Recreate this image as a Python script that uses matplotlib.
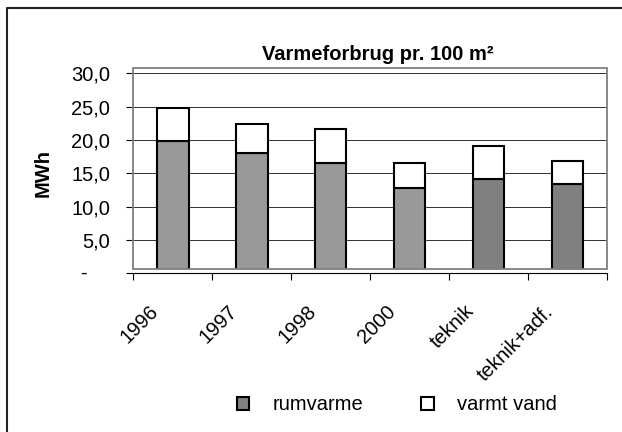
import matplotlib.pyplot as plt
import matplotlib.transforms as mtransforms
from matplotlib.patches import Patch, Rectangle
from matplotlib.ticker import FuncFormatter, FixedLocator

plt.rcParams["font.family"] = ["Liberation Sans", "DejaVu Sans"]

categories = ["1996", "1997", "1998", "2000", "teknik", "teknik+adf."]
rumvarme = [19.85, 18.1, 16.5, 12.75, 14.15, 13.4]
varmt_vand = [5.0, 4.3, 5.15, 3.85, 5.0, 3.45]
rum_colors = ["#999999", "#999999", "#999999", "#999999", "#808080", "#808080"]
y_ticks = [0, 5, 10, 15, 20, 25, 30]

W, H = 622, 432
DPI = 100
FS = 14.5

fig = plt.figure(figsize=(W / DPI, H / DPI), dpi=DPI)

# plot area in pixels: x 133..607, value 0 at y=273, box top at y=68
left, right, y0, ytop = 133.3, 607.0, 273.3, 67.7
ax = fig.add_axes([left / W, 1 - y0 / H, (right - left) / W, (y0 - ytop) / H])
ymax = 30 * (y0 - ytop) / (y0 - 73.3)
ax.set_xlim(-0.5, len(categories) - 0.5)
ax.set_ylim(0, ymax)

# grey plot-area frame, sits a bit above the value axis
box_bottom = 30 * (y0 - 269.0) / (y0 - 73.3)
frame = Rectangle((-0.5, box_bottom), len(categories), ymax - box_bottom,
                  facecolor="none", edgecolor="#808080", lw=1.3, zorder=4,
                  clip_on=False)
ax.add_patch(frame)

for v in y_ticks[1:]:
    ax.axhline(v, color="#303030", lw=0.7, zorder=1)

x = range(len(categories))
b1 = ax.bar(x, rumvarme, width=0.4, color=rum_colors, edgecolor="black",
            lw=1.5, zorder=3)
b2 = ax.bar(x, varmt_vand, width=0.4, bottom=rumvarme, color="white",
            edgecolor="black", lw=1.5, zorder=3)
for bar in list(b1) + list(b2):
    bar.set_clip_path(frame)

for s in ["top", "right", "left"]:
    ax.spines[s].set_visible(False)
ax.spines["bottom"].set_color("black")
ax.spines["bottom"].set_linewidth(0.8)

ax.set_yticks(y_ticks)
ax.yaxis.set_major_formatter(FuncFormatter(
    lambda v, p: "" if v == 0 else f"{v:.1f}".replace(".", ",")))
ax.tick_params(axis="y", length=4.7, width=0.8, direction="out",
               pad=12, labelsize=FS)
ax.text(-0.5, 0, "-", transform=ax.transData + mtransforms.ScaledTranslation(
    -(left - 83.5) / DPI, 0, fig.dpi_scale_trans),
    ha="center", va="center", fontsize=FS)

ax.xaxis.set_major_locator(FixedLocator([i - 0.5 for i in range(len(categories) + 1)]))
ax.set_xticklabels([])
ax.tick_params(axis="x", length=5, width=0.8, direction="out")

off = mtransforms.ScaledTranslation(-17 / DPI, -35 / DPI, fig.dpi_scale_trans)
for i, c in enumerate(categories):
    ax.text(i, 0, c, transform=ax.transData + off, rotation=45,
            rotation_mode="anchor", ha="right", va="center", fontsize=FS)

fig.text(378 / W, 1 - 60 / H, "Varmeforbrug pr. 100 m²", ha="center",
         va="baseline", fontsize=FS, fontweight="bold")
fig.text(43 / W, 1 - 173 / H, "MWh", ha="center", va="center", rotation=90,
         fontsize=FS, fontweight="bold")

handles = [Patch(facecolor="#808080", edgecolor="black", lw=1.5, label="rumvarme"),
           Patch(facecolor="white", edgecolor="black", lw=1.5, label="varmt vand")]
fig.legend(handles=handles, loc="center left", ncol=2, frameon=False,
           bbox_to_anchor=(236.7 / W, 1 - 405 / H), fontsize=FS,
           handlelength=0.62, handleheight=0.62, handletextpad=1.15,
           columnspacing=2.9, borderpad=0, borderaxespad=0)

# outer chart border (only top and left edges show in the picture)
fig.add_artist(plt.Line2D([7 / W, 7 / W, 1.0], [0, 1 - 8 / H, 1 - 8 / H],
                          transform=fig.transFigure, color="#222222", lw=1.5))

fig.savefig("out.png", dpi=DPI)
